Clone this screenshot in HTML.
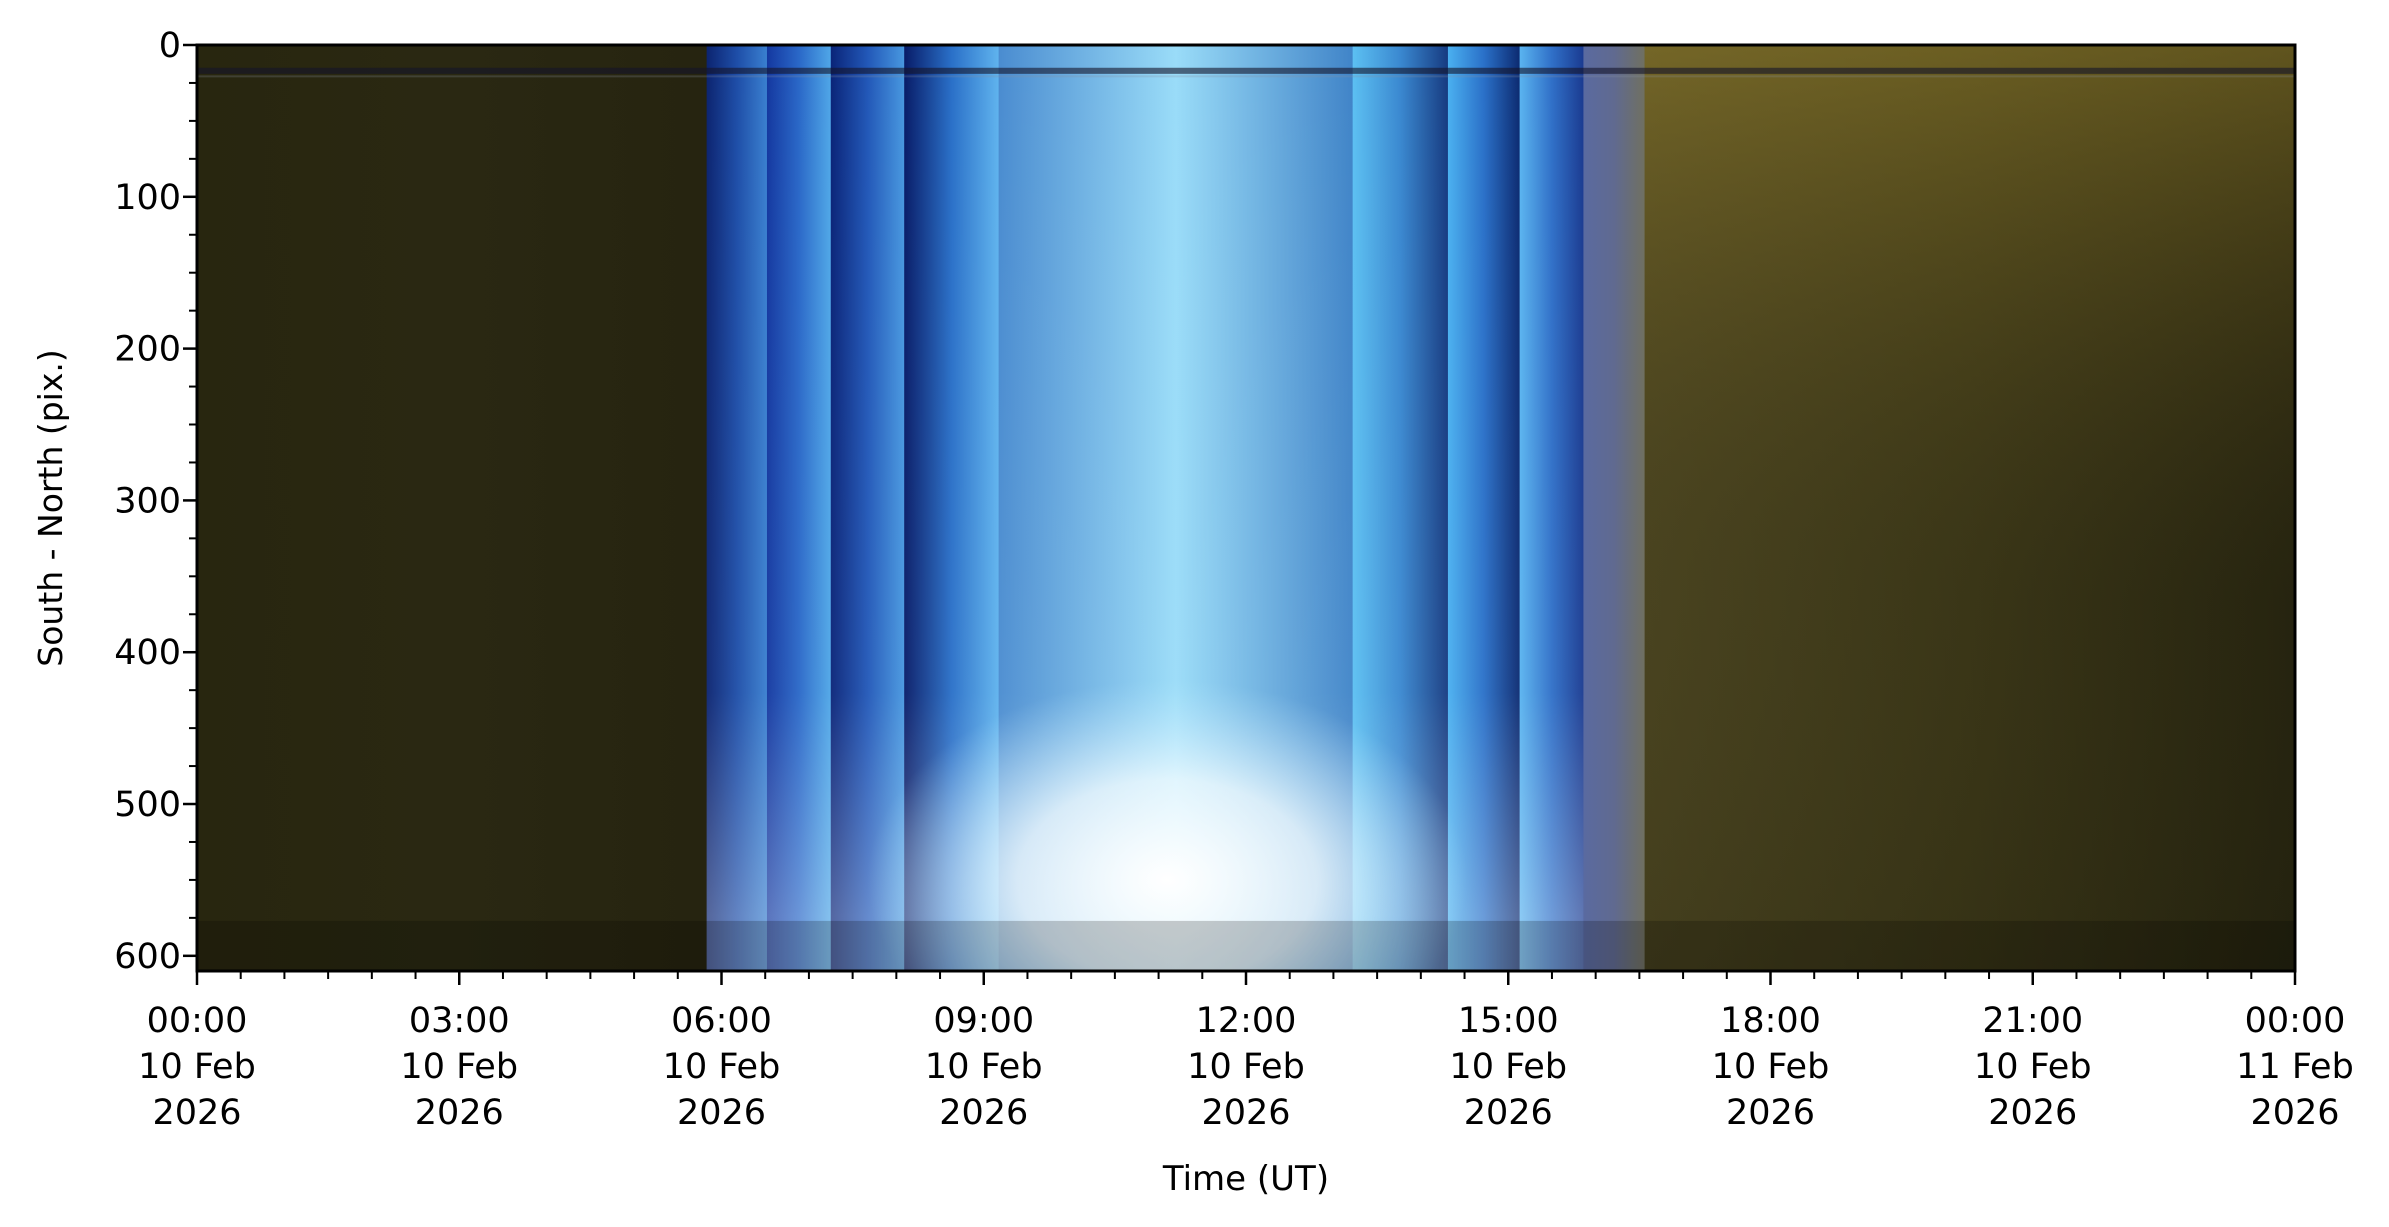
<!DOCTYPE html>
<html><head><meta charset="utf-8"><style>
body{margin:0;background:#fff;}
svg{display:block;font-family:"DejaVu Sans","Liberation Sans",sans-serif;}
</style></head><body>
<svg id="chart" width="2389" height="1227" viewBox="0 0 2389 1227" xmlns="http://www.w3.org/2000/svg">
<defs id="defs">
<radialGradient id="glow" cx="0.5" cy="0.5" r="0.5">
<stop offset="0" stop-color="#ffffff" stop-opacity="1"/>
<stop offset="0.5" stop-color="#f4fcff" stop-opacity="0.75"/>
<stop offset="1" stop-color="#c0ecff" stop-opacity="0"/>
</radialGradient>
<linearGradient id="vblue" x1="0" y1="0" x2="0" y2="1">
<stop offset="0" stop-color="#ffffff" stop-opacity="0"/>
<stop offset="0.7" stop-color="#ffffff" stop-opacity="0.04"/>
<stop offset="0.94" stop-color="#ffffff" stop-opacity="0.3"/>
</linearGradient>
<linearGradient id="vyellow" x1="0" y1="0" x2="0" y2="1">
<stop offset="0" stop-color="#a89030" stop-opacity="0.45"/>
<stop offset="0.2" stop-color="#8a7628" stop-opacity="0.3"/>
<stop offset="0.6" stop-color="#3a3418" stop-opacity="0.05"/>
<stop offset="1" stop-color="#1a1a0c" stop-opacity="0.15"/>
</linearGradient>
<clipPath id="plotclip"><rect x="197" y="45" width="2098" height="926"/></clipPath>
</defs>
<g id="plot" clip-path="url(#plotclip)"></g>
<g id="axes"></g>
<text x="0" y="0" font-size="33" text-anchor="middle" transform="translate(62,508) rotate(-90)">South - North (pix.)</text>
<text x="1246" y="1190" font-size="34" text-anchor="middle">Time (UT)</text>
</svg>
<script>
// Segment start/end hours and colours (left edge, middle, right edge)
const segStart = [0, 5.83, 6.52, 7.25, 8.09, 9.17, 13.22, 14.31, 15.13, 15.86, 16.56];
const segEnd   = [5.83, 6.52, 7.25, 8.09, 9.17, 13.22, 14.31, 15.13, 15.86, 16.56, 24];
const segLeft  = ["#28260f","#0c2470","#1438a0","#0a2478","#081c68","#4a8cd0","#5cc0f2","#4ab0f0","#5ab4f0","#5a6aa0","#4a4420"];
const segMid   = ["#2a2812","#1e4ea8","#2a68c8","#2258b8","#2a70c8","#9adcf8","#3a88d0","#2a70c8","#3070c8","#606a90","#3a3617"];
const segRight = ["#262410","#3a80d0","#50a8e8","#4898e0","#60b4ee","#4084c8","#163a80","#0c2a70","#1a3a90","#707060","#25230f"];
const yTicks = [0, 100, 200, 300, 400, 500, 600];
const xTickHours = [0, 3, 6, 9, 12, 15, 18, 21, 24];
const xTickTimes = ["00:00","03:00","06:00","09:00","12:00","15:00","18:00","21:00","00:00"];
const xTickDates = ["10 Feb","10 Feb","10 Feb","10 Feb","10 Feb","10 Feb","10 Feb","10 Feb","11 Feb"];
const xTickYears = ["2026","2026","2026","2026","2026","2026","2026","2026","2026"];
const glowCenter = [11.1, 550];

const X0=197, X1=2295, Y0=45, Y1=971, YMAX=610;
const xs = h => X0 + h*(X1-X0)/24;
const ys = v => Y0 + v*(Y1-Y0)/YMAX;
const NS="http://www.w3.org/2000/svg";
const plot=document.getElementById('plot'), axes=document.getElementById('axes'), defs=document.getElementById('defs');
function mk(tag, attrs, parent){const e=document.createElementNS(NS,tag);for(const k in attrs)e.setAttribute(k,attrs[k]);parent.appendChild(e);return e;}

segStart.forEach((s,i)=>{
  const g=mk('linearGradient',{id:'sg'+i,x1:'0',y1:'0',x2:'1',y2:'0'},defs);
  mk('stop',{offset:'0','stop-color':segLeft[i]},g);
  mk('stop',{offset:'0.5','stop-color':segMid[i]},g);
  mk('stop',{offset:'1','stop-color':segRight[i]},g);
  const r=mk('rect',{x:xs(s),y:Y0,width:xs(segEnd[i])-xs(s)+0.5,height:Y1-Y0,fill:'url(#sg'+i+')'},plot);
  
  
});
const vb=mk('rect',{x:xs(segStart[1]),y:Y0,width:xs(segEnd[8])-xs(segStart[1]),height:Y1-Y0,fill:'url(#vblue)'},plot);


const vy=mk('rect',{x:xs(segStart[10]),y:Y0,width:xs(24)-xs(segStart[10]),height:Y1-Y0,fill:'url(#vyellow)'},plot);


const gl=mk('ellipse',{cx:xs(glowCenter[0]),cy:ys(glowCenter[1]),rx:300,ry:200,fill:'url(#glow)'},plot);


const tb=mk('rect',{x:X0,y:ys(15),width:X1-X0,height:ys(19)-ys(15),fill:'#14142a','fill-opacity':0.6},plot);


const tl=mk('rect',{x:X0,y:ys(20),width:X1-X0,height:2,fill:'#8890a0','fill-opacity':0.25},plot);


const bs=mk('rect',{x:X0,y:ys(577),width:X1-X0,height:Y1-ys(577),fill:'#000','fill-opacity':0.2},plot);



const fr=mk('rect',{x:X0,y:Y0,width:X1-X0,height:Y1-Y0,fill:'none',stroke:'#000','stroke-width':3},axes);


for(let v=0; v<=YMAX; v+=25){
  const major = v%100===0;
  const t=mk('line',{x1:X0,x2:X0-(major?14:8),y1:ys(v),y2:ys(v),stroke:'#000','stroke-width':major?2.5:2},axes);
  
  
}
yTicks.forEach(v=>{
  const t=mk('text',{x:X0-16,y:ys(v)+12,'font-size':35,'text-anchor':'end'},axes);
  t.textContent=v;
  
  
});
for(let h=0; h<=24; h+=0.5){
  const major = h%3===0;
  const t=mk('line',{x1:xs(h),x2:xs(h),y1:Y1,y2:Y1+(major?14:8),stroke:'#000','stroke-width':major?2.5:2},axes);
  
  
}
xTickHours.forEach((h,i)=>{
  [xTickTimes[i],xTickDates[i],xTickYears[i]].forEach((s,j)=>{
    const t=mk('text',{x:xs(h),y:1032+j*46,'font-size':35,'text-anchor':'middle'},axes);
    t.textContent=s;
    
    
  });
});
</script>
</body></html>
